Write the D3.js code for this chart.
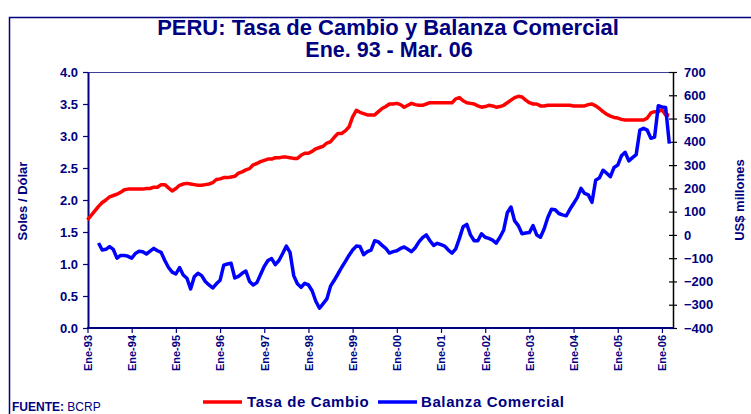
<!DOCTYPE html>
<html>
<head>
<meta charset="utf-8">
<script src="https://cdn.jsdelivr.net/npm/d3@7"></script>
<style>
  body { margin: 0; background: #fff; }
  svg { font-family: "Liberation Sans", Arial, sans-serif; }
  .axis text { fill: #000080; font-weight: bold; }
</style>
</head>
<body>
<div id="chart"></div>
<script>
// chart size
var svgWidth = 751;
var svgHeight = 414;

// x tick labels (every January)
var tickLabels = ['Ene-93', 'Ene-94', 'Ene-95', 'Ene-96', 'Ene-97', 'Ene-98', 'Ene-99',
  'Ene-00', 'Ene-01', 'Ene-02', 'Ene-03', 'Ene-04', 'Ene-05', 'Ene-06'];

// Tasa de Cambio, soles por dolar, Ene-93 .. Mar-06 (monthly)
var tasaCambio = [
  1.69, 1.76, 1.83, 1.90, 1.96, 2.00, 2.05, 2.07, 2.09, 2.12, 2.16, 2.17,
  2.17, 2.17, 2.17, 2.17, 2.18, 2.18, 2.20, 2.20, 2.24, 2.24, 2.19, 2.14,
  2.18, 2.23, 2.25, 2.26, 2.25, 2.24, 2.23, 2.23, 2.24, 2.25, 2.27, 2.32,
  2.33, 2.35, 2.35, 2.36, 2.37, 2.42, 2.44, 2.47, 2.49, 2.55, 2.57, 2.60,
  2.62, 2.64, 2.64, 2.66, 2.66, 2.67, 2.67, 2.66, 2.65, 2.65, 2.70, 2.73,
  2.73, 2.76, 2.80, 2.82, 2.84, 2.89, 2.91, 2.98, 3.04, 3.04, 3.08, 3.14,
  3.30, 3.40, 3.37, 3.35, 3.33, 3.33, 3.33, 3.38, 3.43, 3.46, 3.50, 3.50,
  3.51, 3.49, 3.45, 3.48, 3.51, 3.49, 3.48, 3.48, 3.50, 3.52, 3.52, 3.52,
  3.52, 3.52, 3.52, 3.52, 3.58, 3.60, 3.55, 3.52, 3.51, 3.50, 3.47, 3.45,
  3.46, 3.48, 3.47, 3.45, 3.46, 3.48, 3.52, 3.56, 3.60, 3.62, 3.61, 3.56,
  3.52, 3.50, 3.50, 3.47, 3.47, 3.48, 3.48, 3.48, 3.48, 3.48, 3.48, 3.48,
  3.47, 3.47, 3.47, 3.47, 3.49, 3.50, 3.47, 3.43, 3.38, 3.34, 3.31, 3.29,
  3.28, 3.26, 3.25, 3.25, 3.25, 3.25, 3.25, 3.25, 3.28, 3.36, 3.38, 3.38,
  3.41, 3.33, 3.33
];

// Balanza Comercial, US$ millones, starts Abr-93 (month index 3)
var balanzaStart = 3;
var balanzaComercial = [
  -35, -65, -62, -50, -62, -100, -88, -88, -92,
  -100, -80, -70, -72, -82, -70, -58, -68, -75, -110, -140, -160,
  -168, -140, -172, -186, -232, -180, -165, -175, -200, -215, -228, -210,
  -195, -130, -125, -122, -185, -178, -165, -155, -200, -215, -205, -170,
  -135, -110, -102, -128, -110, -80, -48, -75, -175, -210, -225, -208,
  -215, -240, -285, -315, -295, -275, -220, -195, -168, -140, -115, -88,
  -65, -48, -50, -85, -72, -65, -25, -30, -45, -58, -78, -72,
  -68, -58, -52, -62, -72, -55, -30, -12, 0, -25, -45, -36,
  -42, -48, -65, -78, -60, -15, 35, 45, 0, -25, -25, 5,
  -10, -15, -22, -35, -10, 20, 95, 120, 60, 40, 5, 8,
  10, 40, 0, -10, 25, 75, 110, 108, 92, 86, 82, 110,
  135, 160, 200, 178, 172, 140, 235, 245, 278, 265, 250, 290,
  300, 340, 355, 318, 332, 345, 450, 458, 450, 415, 420, 555,
  550, 548, 392
];

var navy = '#000080';

var svg = d3.select('#chart')
  .append('svg')
  .attr('width', svgWidth)
  .attr('height', svgHeight);

// outer frame (partly outside the picture)
svg.append('rect')
  .attr('x', 9.5).attr('y', 17.5)
  .attr('width', 800).attr('height', 500)
  .attr('fill', 'none')
  .attr('stroke', navy)
  .attr('stroke-width', 1.5);

// titles
svg.append('text')
  .attr('x', 388).attr('y', 35)
  .attr('text-anchor', 'middle')
  .attr('fill', navy)
  .style('font-size', '22px').style('font-weight', 'bold')
  .text('PERU: Tasa de Cambio y Balanza Comercial');

svg.append('text')
  .attr('x', 389).attr('y', 57)
  .attr('text-anchor', 'middle')
  .attr('fill', navy)
  .style('font-size', '21.5px').style('font-weight', 'bold')
  .text('Ene. 93 - Mar. 06');

// scales
var xScale = d3.scaleLinear().domain([0, 159]).range([87.5, 673]);
var yLeft = d3.scaleLinear().domain([0, 4]).range([328, 72]);
var yRight = d3.scaleLinear().domain([-400, 700]).range([328, 72]);

// plot top border
svg.append('line')
  .attr('x1', 88).attr('x2', 673)
  .attr('y1', 72.5).attr('y2', 72.5)
  .attr('stroke', '#3d3d99')
  .attr('stroke-width', 1);

// left axis
var leftAxis = d3.axisLeft(yLeft)
  .tickValues(d3.range(0, 4.01, 0.5))
  .tickFormat(d3.format('.1f'))
  .tickSize(5)
  .tickSizeOuter(0)
  .tickPadding(5);

var gLeft = svg.append('g')
  .attr('class', 'axis')
  .attr('transform', 'translate(88,0)')
  .call(leftAxis);
gLeft.select('.domain').attr('stroke', navy).attr('stroke-width', 2);
gLeft.selectAll('.tick line').attr('stroke', navy).attr('stroke-width', 1.2);
gLeft.selectAll('.tick text').style('font-size', '13px');

// right axis
var rightAxis = d3.axisRight(yRight)
  .tickValues(d3.range(-400, 701, 100))
  .tickSize(4)
  .tickSizeOuter(0)
  .tickPadding(7);

var gRight = svg.append('g')
  .attr('class', 'axis')
  .attr('transform', 'translate(673,0)')
  .call(rightAxis);
gRight.select('.domain').attr('stroke', '#000').attr('stroke-width', 1.5);
gRight.selectAll('.tick line').attr('x1', -4).attr('stroke', '#000').attr('stroke-width', 1.2);
gRight.selectAll('.tick text').style('font-size', '13px');

// bottom axis
var bottomAxis = d3.axisBottom(xScale)
  .tickValues(tickLabels.map((d, i) => i * 12))
  .tickFormat((d, i) => tickLabels[i])
  .tickSize(5)
  .tickSizeOuter(0);

var gBottom = svg.append('g')
  .attr('class', 'axis')
  .attr('transform', 'translate(0,328)')
  .call(bottomAxis);
gBottom.select('.domain').attr('stroke', navy).attr('stroke-width', 2)
  .attr('d', 'M87,0H673');
gBottom.selectAll('.tick line').attr('stroke', navy).attr('stroke-width', 1.2);
gBottom.selectAll('.tick text')
  .style('font-size', '11px')
  .attr('text-anchor', 'end')
  .attr('transform', 'rotate(-90)')
  .attr('x', -7)
  .attr('y', 0)
  .attr('dy', '0.35em');

// axis titles
svg.append('text')
  .attr('transform', 'translate(27,201) rotate(-90)')
  .attr('text-anchor', 'middle')
  .attr('fill', navy)
  .style('font-size', '13px').style('font-weight', 'bold')
  .text('Soles / Dólar');

svg.append('text')
  .attr('transform', 'translate(744,200) rotate(-90)')
  .attr('text-anchor', 'middle')
  .attr('fill', navy)
  .style('font-size', '13px').style('font-weight', 'bold')
  .text('US$ millones');

// lines
var tasaLine = d3.line()
  .x((d, i) => xScale(i))
  .y(d => yLeft(d));

var balanzaLine = d3.line()
  .x((d, i) => xScale(i + balanzaStart))
  .y(d => yRight(d));

svg.append('path')
  .datum(tasaCambio)
  .attr('d', tasaLine)
  .attr('fill', 'none')
  .attr('stroke', '#ff0000')
  .attr('stroke-width', 3.5)
  .attr('stroke-linejoin', 'round');

svg.append('path')
  .datum(balanzaComercial)
  .attr('d', balanzaLine)
  .attr('fill', 'none')
  .attr('stroke', '#0000ff')
  .attr('stroke-width', 3.5)
  .attr('stroke-linejoin', 'round');

// legend
var legend = svg.append('g');
legend.append('line')
  .attr('x1', 203).attr('x2', 242).attr('y1', 402).attr('y2', 402)
  .attr('stroke', '#ff0000').attr('stroke-width', 3.5);
legend.append('text')
  .attr('x', 247).attr('y', 407)
  .attr('fill', navy)
  .style('font-size', '15px').style('font-weight', 'bold')
  .style('letter-spacing', '0.6px')
  .text('Tasa de Cambio');
legend.append('line')
  .attr('x1', 378).attr('x2', 417).attr('y1', 402).attr('y2', 402)
  .attr('stroke', '#0000ff').attr('stroke-width', 3.5);
legend.append('text')
  .attr('x', 421).attr('y', 407)
  .attr('fill', navy)
  .style('font-size', '15px').style('font-weight', 'bold')
  .style('letter-spacing', '0.6px')
  .text('Balanza Comercial');

// source
var src = svg.append('text')
  .attr('x', 12).attr('y', 411)
  .attr('fill', navy)
  .style('font-size', '12px');
src.append('tspan').style('font-weight', 'bold').text('FUENTE: ');
src.append('tspan').text('BCRP');
</script>
</body>
</html>
